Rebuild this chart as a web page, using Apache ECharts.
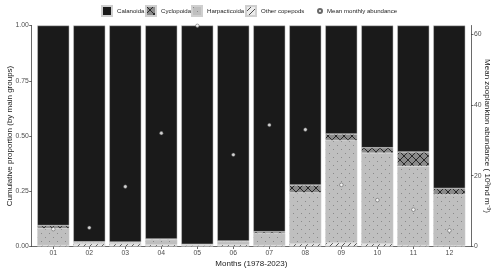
<!DOCTYPE html>
<html><head><meta charset="utf-8">
<script src="https://cdn.jsdelivr.net/npm/echarts@6/dist/echarts.min.js"></script>
<style>html,body{margin:0;padding:0;background:#fff}#c{width:500px;height:274px}</style>
</head><body><div id="c"></div>
<script>
// ---- data ----
var months = ['01','02','03','04','05','06','07','08','09','10','11','12'];
var calanoida     = [0.905,0.979,0.980,0.966,0.990,0.975,0.933,0.722,0.491,0.553,0.572,0.737];
var cyclopoida    = [0.014,0.003,0.003,0.004,0.001,0.003,0.008,0.035,0.029,0.024,0.065,0.029];
var harpacticoida = [0.075,0.006,0.005,0.022,0.003,0.014,0.053,0.231,0.463,0.411,0.357,0.230];
var otherCopepods = [0.006,0.012,0.012,0.008,0.006,0.008,0.006,0.012,0.017,0.012,0.006,0.004];
var meanAbundance = [4.9,5.3,16.9,32.0,62.3,25.9,34.3,33.0,17.4,13.1,10.4,4.5];
var leftTicks = [0,0.25,0.5,0.75,1];
var rightTicks = [0,20,40,60];

// ---- patterns ----
function pat(w,h,bg,draw){
  var c=document.createElement('canvas');c.width=w;c.height=h;
  var g=c.getContext('2d');g.fillStyle=bg;g.fillRect(0,0,w,h);draw(g);
  return {image:c,repeat:'repeat'};
}
var cycloPat = pat(8,8,'#8a8a8a',function(g){
  g.strokeStyle='#1e1e1e';g.lineWidth=0.9;
  g.beginPath();g.moveTo(0,0);g.lineTo(8,8);g.moveTo(0,8);g.lineTo(8,0);g.stroke();
});
var harpPat = pat(8,8,'#bfbfbf',function(g){
  g.fillStyle='#8a8a8a';g.fillRect(1,1,1,1);g.fillRect(5,5,1,1);
});
var otherPat = pat(6,6,'#ececec',function(g){
  g.strokeStyle='#222';g.lineWidth=0.8;
  g.beginPath();g.moveTo(0,6);g.lineTo(6,0);g.moveTo(-1,1);g.lineTo(1,-1);g.moveTo(5,7);g.lineTo(7,5);g.stroke();
});

var xPos = months.map(function(m,i){return i+1;});

function barSeries(name,data,color){
  return {name:name,type:'bar',stack:'s',barWidth:32,data:data,
    xAxisIndex:1,yAxisIndex:2,
    itemStyle:{color:color,borderColor:'#cfcfcf',borderWidth:0.5},
    emphasis:{disabled:true}};
}

var font='Liberation Sans, Arial, sans-serif';
function leg(left,top,name,w,h,icon){
  return {left:left,top:top,padding:0,itemWidth:w,itemHeight:h,
    textStyle:{fontSize:6.1,color:'#222',fontFamily:font},data:[{name:name,icon:icon}]};
}
var axisCol='#444';
var chart=echarts.init(document.getElementById('c'),null,{renderer:'canvas'});
chart.setOption({
  animation:false,
  textStyle:{fontFamily:font},
  legend:[
    leg(101,5,'Calanoida',10,10,'rect'),
    leg(145,5,'Cyclopoida',10,10,'rect'),
    leg(191,5,'Harpacticoida',10,10,'rect'),
    leg(245,5,'Other copepods',10,10,'rect'),
    leg(317,8,'Mean monthly abundance',4,4,'circle')
  ],
  grid:[
    {left:31.7,right:29,top:25.5,bottom:27.5,containLabel:false,outerBoundsMode:'none'},
    {left:35.3,right:32.7,top:25.5,bottom:27.5,containLabel:false,outerBoundsMode:'none'}
  ],
  xAxis:[{type:'value',gridIndex:0,min:0.4,max:12.6,
    name:'Months (1978-2023)',nameLocation:'middle',nameGap:13,nameMoveOverlap:false,
    nameTextStyle:{fontSize:8,color:'#222',fontFamily:font},
    axisLine:{lineStyle:{color:axisCol,width:0.8}},
    axisTick:{customValues:xPos,length:2.5,lineStyle:{color:axisCol,width:0.8}},
    axisLabel:{customValues:xPos,margin:3,fontSize:6.8,color:'#4d4d4d',
      formatter:function(v){return months[Math.round(v)-1];}},
    splitLine:{show:false}},
   {type:'category',gridIndex:1,data:months,show:false,boundaryGap:true}],
  yAxis:[{type:'value',gridIndex:0,min:0,max:1,interval:0.25,position:'left',
    name:'Cumulative proportion (by main groups)',nameLocation:'middle',nameGap:18,nameMoveOverlap:false,
    nameTextStyle:{fontSize:8,color:'#222',fontFamily:font},
    axisLine:{show:true,lineStyle:{color:axisCol,width:0.8}},
    axisTick:{show:true,length:2.5,lineStyle:{color:axisCol,width:0.8}},
    axisLabel:{margin:3,fontSize:6.8,color:'#4d4d4d',formatter:function(v){return v.toFixed(2);}},
    splitLine:{show:false}},
   {type:'value',gridIndex:0,min:0,max:62.4,position:'right',
    name:'Mean zooplankton abundance ( 10²ind m⁻³)',nameLocation:'middle',nameGap:12,nameRotate:-90,nameMoveOverlap:false,
    nameTextStyle:{fontSize:8,color:'#222',fontFamily:font},
    axisLine:{show:true,lineStyle:{color:axisCol,width:0.8}},
    axisTick:{show:true,customValues:rightTicks,length:2.5,lineStyle:{color:axisCol,width:0.8}},
    axisLabel:{customValues:rightTicks,margin:3,fontSize:6.8,color:'#4d4d4d'},
    splitLine:{show:false}},
   {type:'value',gridIndex:1,min:0,max:1,show:false}],
  series:[
    barSeries('Other copepods',otherCopepods,otherPat),
    barSeries('Harpacticoida',harpacticoida,harpPat),
    barSeries('Cyclopoida',cyclopoida,cycloPat),
    barSeries('Calanoida',calanoida,'#1a1a1a'),
    {name:'Mean monthly abundance',type:'scatter',xAxisIndex:0,yAxisIndex:1,symbol:'circle',symbolSize:3.6,z:5,
     data:meanAbundance.map(function(v,i){return [xPos[i],v];}),
     itemStyle:{color:'#ffffff',borderColor:'#444',borderWidth:0.6},emphasis:{disabled:true}}
  ]
});
</script></body></html>
